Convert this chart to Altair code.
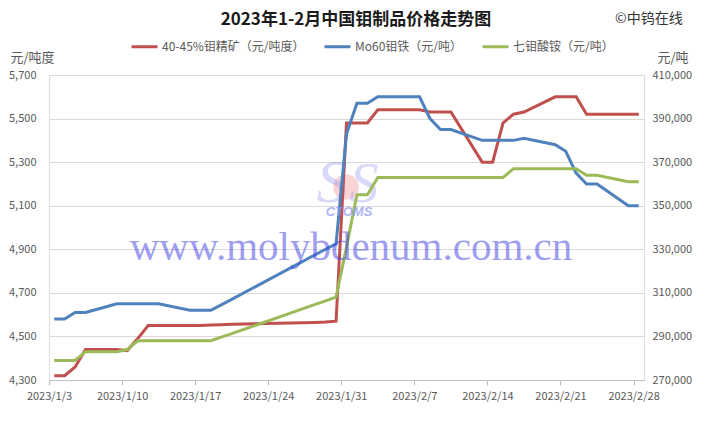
import altair as alt
import pandas as pd

# ---- data ----
dates = ["2023-01-03", "2023-01-04", "2023-01-05", "2023-01-06", "2023-01-09", "2023-01-10",
         "2023-01-11", "2023-01-12", "2023-01-13", "2023-01-16", "2023-01-17", "2023-01-18",
         "2023-01-19", "2023-01-20", "2023-01-28", "2023-01-29", "2023-01-30", "2023-01-31",
         "2023-02-01", "2023-02-02", "2023-02-03", "2023-02-06", "2023-02-07", "2023-02-08",
         "2023-02-09", "2023-02-10", "2023-02-13", "2023-02-14", "2023-02-15", "2023-02-16",
         "2023-02-17", "2023-02-20", "2023-02-21", "2023-02-22", "2023-02-23", "2023-02-24",
         "2023-02-27", "2023-02-28"]

moly_concentrate = [4320, 4320, 4360, 4440, 4440, 4435,
                    4490, 4550, 4550, 4550, 4550, 4552,
                    4554, 4556, 4564, 4566, 4570, 5480,
                    5480, 5480, 5540, 5540, 5540, 5530,
                    5530, 5530, 5300, 5300, 5480, 5520,
                    5530, 5600, 5600, 5600, 5520, 5520,
                    5520, 5520]

ferro_moly = [298000, 298000, 301000, 301000, 305000, 305000,
              305000, 305000, 305000, 302000, 302000, 302000,
              304500, 307000, 327500, 330000, 332500, 383000,
              397000, 397000, 400000, 400000, 400000, 390000,
              385000, 385000, 380000, 380000, 380000, 380000,
              381000, 378000, 375000, 365000, 360000, 360000,
              350000, 350000]

apm = [279000, 279000, 279000, 283000, 283000, 284000,
       288000, 288000, 288000, 288000, 288000, 288000,
       289700, 291300, 304700, 306300, 308000, 331000,
       355000, 355000, 363000, 363000, 363000, 363000,
       363000, 363000, 363000, 363000, 363000, 367000,
       367000, 367000, 367000, 367000, 364000, 364000,
       361000, 361000]

series_names = ["40-45%钼精矿（元/吨度）", "Mo60钼铁（元/吨）", "七钼酸铵（元/吨）"]
series_colors = ["#C0504D", "#4F81BD", "#9BBB59"]
x_tick_labels = ["2023/1/3", "2023/1/10", "2023/1/17", "2023/1/24", "2023/1/31",
                 "2023/2/7", "2023/2/14", "2023/2/21", "2023/2/28"]
left_ticks = [4300, 4500, 4700, 4900, 5100, 5300, 5500, 5700]
right_ticks = [270000, 290000, 310000, 330000, 350000, 370000, 390000, 410000]

chart_title = "2023年1-2月中国钼制品价格走势图"
copyright_text = "©中钨在线"
left_unit = "元/吨度"
right_unit = "元/吨"
watermark = "www.molybdenum.com.cn"
logo_text = "CTOMS"

# ---- build tables ----
start = pd.Timestamp(dates[0])
day = [(pd.Timestamp(d) - start).days + 0.5 for d in dates]  # centre of each date slot

df_left = pd.DataFrame({"day": day, "value": moly_concentrate, "series": series_names[0]})
df_right = pd.concat([
    pd.DataFrame({"day": day, "value": ferro_moly, "series": series_names[1]}),
    pd.DataFrame({"day": day, "value": apm, "series": series_names[2]}),
], ignore_index=True)

FONT = "Noto Sans CJK SC"
GRAY = "#595959"

label_expr = "[" + ",".join(f"'{l}'" for l in x_tick_labels) + "][round(datum.value/7)]"
x_enc = alt.X(
    "day:Q",
    scale=alt.Scale(domain=[0, 57], nice=False, zero=False),
    axis=alt.Axis(values=[7 * i for i in range(len(x_tick_labels))], labelExpr=label_expr,
                  title=None, grid=False, tickSize=5, tickColor="#bfbfbf",
                  domainColor="#bfbfbf", labelPadding=5, labelFontSize=11,
                  labelColor=GRAY, labelFont=FONT, labelFlush=False, labelOverlap=False,
                  labelBound=False),
)

color_enc = alt.Color(
    "series:N",
    scale=alt.Scale(domain=series_names, range=series_colors),
    legend=alt.Legend(orient="none", legendX=81, legendY=-43, direction="horizontal",
                      title=None, symbolType="stroke", symbolStrokeWidth=3, symbolSize=676,
                      labelFontSize=12, labelFont=FONT, labelColor=GRAY, labelOffset=3,
                      columnPadding=13, padding=0, labelLimit=300),
)

left = alt.Chart(df_left).mark_line(strokeWidth=3).encode(
    x=x_enc,
    y=alt.Y("value:Q",
            scale=alt.Scale(domain=[4300, 5700], nice=False, zero=False),
            axis=alt.Axis(orient="left", values=left_ticks, format=",.0f", grid=True,
                          gridColor="#d9d9d9", ticks=False, domain=False, labelPadding=13,
                          labelFontSize=11, labelColor=GRAY, labelFont=FONT,
                          title=left_unit, titleAngle=0, titleX=-39, titleY=-18,
                          titleAlign="left", titleBaseline="middle", titleFontSize=13,
                          titleFontWeight="normal", titleColor=GRAY, titleFont=FONT)),
    color=color_enc,
)

right = alt.Chart(df_right).mark_line(strokeWidth=3).encode(
    x=x_enc,
    y=alt.Y("value:Q",
            scale=alt.Scale(domain=[270000, 410000], nice=False, zero=False),
            axis=alt.Axis(orient="right", values=right_ticks, format=",.0f", grid=False,
                          ticks=False, domain=False, labelPadding=8,
                          labelFontSize=11, labelColor=GRAY, labelFont=FONT,
                          title=right_unit, titleAngle=0, titleX=13, titleY=-18,
                          titleAlign="left", titleBaseline="middle", titleFontSize=13,
                          titleFontWeight="normal", titleColor=GRAY, titleFont=FONT)),
    color=color_enc,
)

def text_layer(txt, x, y, **kw):
    return alt.Chart(pd.DataFrame({"t": [txt]})).mark_text(**kw).encode(
        text="t:N", x=alt.value(x), y=alt.value(y))

title_l = text_layer(chart_title, 307, -55, font=FONT, fontSize=17, fontWeight="bold",
                     color="#1a1a1a", align="center", baseline="middle")
copy_l = text_layer(copyright_text, 566, -56, font=FONT, fontSize=14, color="#333333",
                    align="left", baseline="middle")

# faint logo behind the watermark: pink disc, two bluish flame curls, "CTOMS"
logo_disc = alt.Chart(pd.DataFrame({"t": [logo_text]})).mark_circle(
    color="#f4a0a0", opacity=0.45, size=650).encode(x=alt.value(297), y=alt.value(112))
flame_a = text_layer("S", 283, 108, font="Liberation Serif", fontSize=62, fontStyle="italic",
                     color="#8080f0", opacity=0.3, align="center", baseline="middle")
flame_b = text_layer("S", 315, 110, font="Liberation Serif", fontSize=58, fontStyle="italic",
                     color="#8080f0", opacity=0.3, align="center", baseline="middle")
logo_l = text_layer(logo_text, 300, 137, font="Liberation Sans", fontSize=13,
                    fontWeight="bold", fontStyle="italic", color="#8a94f0", opacity=0.7,
                    align="center", baseline="middle")
wm_l = text_layer(watermark, 302, 185, font="Liberation Serif", fontSize=41,
                  color="#4040e4", opacity=0.5, align="center", baseline="alphabetic")

chart = alt.layer(logo_disc, flame_a, flame_b, left, right, title_l, copy_l, logo_l, wm_l
).resolve_scale(
    y="independent"
).properties(
    width=595, height=305,
    autosize=alt.AutoSizeParams(type="none"),
    padding={"left": 41, "top": 67, "right": 58, "bottom": 36},
    background="white",
).configure_view(stroke="#d9d9d9", strokeWidth=1).configure(font=FONT)

chart.save("out.html", embed_options={"renderer": "svg", "actions": False})
